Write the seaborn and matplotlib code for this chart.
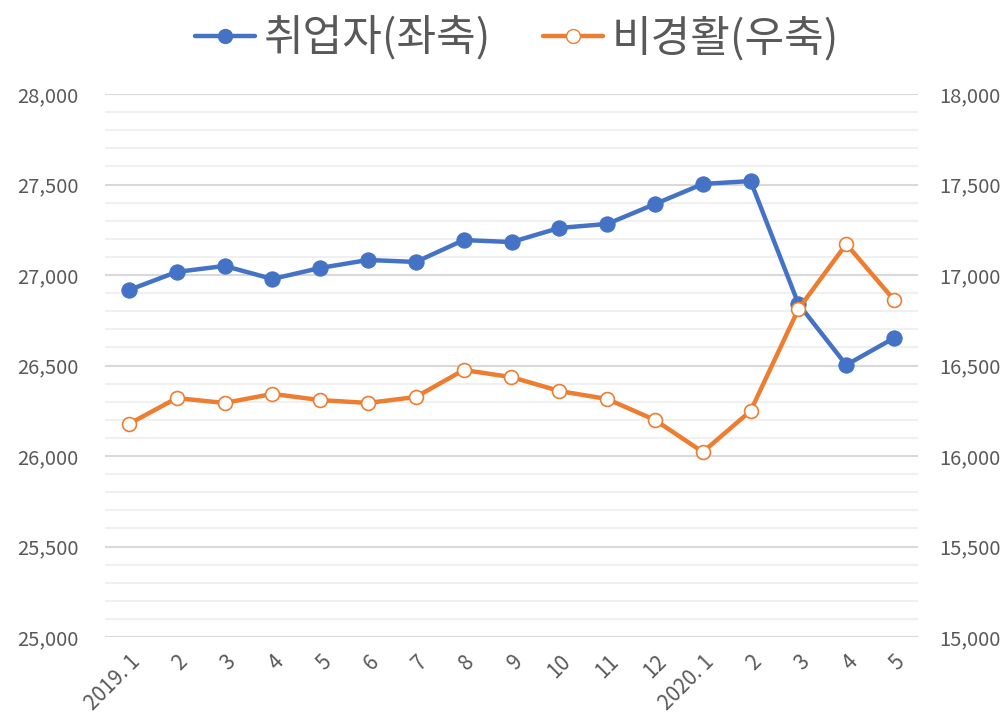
import matplotlib
matplotlib.use("Agg")
import matplotlib.pyplot as plt
import seaborn as sns
import pandas as pd
import numpy as np
from matplotlib.ticker import MultipleLocator, FuncFormatter
from matplotlib.lines import Line2D

months = ["2019. 1", "2", "3", "4", "5", "6", "7", "8", "9", "10", "11", "12",
          "2020. 1", "2", "3", "4", "5"]
employed = [26917, 27017, 27050, 26978, 27039, 27083, 27072, 27193, 27182, 27260,
            27282, 27392, 27503, 27519, 26840, 26503, 26652]
inactive = [16177, 16320, 16293, 16343, 16309, 16293, 16326, 16475, 16436, 16359,
            16315, 16199, 16022, 16249, 16812, 17171, 16862]
label_emp = "취업자(좌축)"
label_ina = "비경활(우축)"

sns.set_theme(style="white")
plt.rcParams['font.family'] = ['Noto Sans CJK KR', 'DejaVu Sans']

blue = "#4472C4"
orange = "#ED7D31"
grey_text = "#595959"

df = pd.DataFrame({"x": np.arange(len(months)), "emp": employed, "ina": inactive})

fig = plt.figure(figsize=(10.08, 7.23), dpi=100)
ax = fig.add_axes([105/1008, 1-637/723, (918-105)/1008, (637-94)/723])
ax2 = ax.twinx()

ax.set_ylim(25000, 28000)
ax2.set_ylim(15000, 18000)
ax.set_xlim(-0.5, len(months) - 0.5)

ax.yaxis.set_major_locator(MultipleLocator(500))
ax.yaxis.set_minor_locator(MultipleLocator(100))
ax2.yaxis.set_major_locator(MultipleLocator(500))
ax.grid(which="major", axis="y", color="#d9d9d9", linewidth=1.5)
ax.grid(which="minor", axis="y", color="#f0f0f0", linewidth=1.5)
ax.set_axisbelow(True)

sns.lineplot(data=df, x="x", y="emp", ax=ax, color=blue, linewidth=3.2,
             marker="o", markersize=11, markeredgecolor=blue, markerfacecolor=blue,
             zorder=3)
sns.lineplot(data=df, x="x", y="ina", ax=ax2, color=orange, linewidth=3.2,
             marker="o", markersize=10, markeredgecolor=orange, markerfacecolor="white",
             markeredgewidth=1.2, zorder=3)

fmt = FuncFormatter(lambda v, p: f"{int(v):,}")
ax.yaxis.set_major_formatter(fmt)
ax2.yaxis.set_major_formatter(fmt)

ax.set_xticks(df["x"])
ax.set_xticklabels(months, rotation=45, ha="right", rotation_mode="anchor")
for a in (ax, ax2):
    a.set_xlabel("")
    a.set_ylabel("")
    for s in a.spines.values():
        s.set_visible(False)
    a.tick_params(axis="both", which="both", length=0, labelsize=14.5, colors=grey_text)
ax.tick_params(axis="y", pad=19)
ax2.tick_params(axis="y", pad=15)
ax.tick_params(axis="x", pad=10, labelsize=15)

handles = [
    Line2D([0], [0], color=blue, linewidth=3.2, marker="o", markersize=10,
           markerfacecolor=blue, markeredgecolor=blue),
    Line2D([0], [0], color=orange, linewidth=3.2, marker="o", markersize=10,
           markerfacecolor="white", markeredgecolor=orange),
]
leg = fig.legend(handles, [label_emp, label_ina], loc="upper center",
                 bbox_to_anchor=(0.513, 1.03), ncol=2, frameon=False,
                 fontsize=31, handlelength=1.4, handletextpad=0.2, columnspacing=1.2)
for t in leg.get_texts():
    t.set_color(grey_text)

fig.savefig("out.png", dpi=100)
